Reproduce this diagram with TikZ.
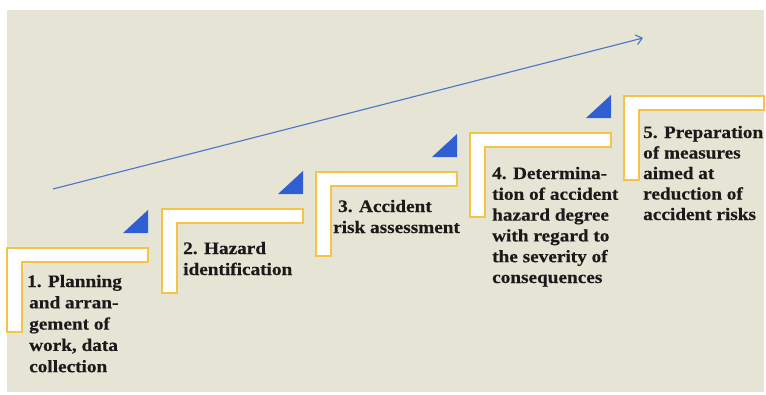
\documentclass[tikz,border=0pt]{standalone}
\usepackage{fontspec}
\newfontfamily\stepfont{Liberation Serif}[FakeStretch=1.1,FakeBold=0.4]
\usetikzlibrary{arrows.meta}
\definecolor{bg}{HTML}{E6E5D5}
\definecolor{stepyellow}{HTML}{F6C445}
\definecolor{triblue}{HTML}{2F5FD3}
\definecolor{arrowblue}{HTML}{4A74C8}
\definecolor{txt}{HTML}{1A1A1A}
\begin{document}
\begin{tikzpicture}[x=1pt,y=-1pt,
  steptext/.style={anchor=base west, inner sep=0pt, font=\stepfont\bfseries\fontsize{17.5}{21}\selectfont, text=txt},
  bracket/.style={fill=white, draw=stepyellow, line width=1.3pt, line join=miter},
  tri/.style={fill=triblue, draw=none}]
\useasboundingbox (0,0) rectangle (766,394);
\fill[white] (0,0) rectangle (766,394);
\fill[bg] (7,10) rectangle (764,392);

% brackets (L-shaped steps) and triangles
\foreach \L/\T/\R in {7/248/148, 162/209/303, 316/172/457, 470/133/611, 624/96/764}{
  \draw[bracket] (\L,\T) -- (\R,\T) -- (\R,\T+14) -- (\L+15,\T+14) -- (\L+15,\T+84) -- (\L,\T+84) -- cycle;
}
\foreach \R/\T in {148/248, 303/209, 457/172, 611/133}{
  \fill[tri] (\R,\T-38) -- (\R,\T-15) -- (\R-25,\T-15) -- cycle;
}

% trend arrow
\coordinate (arrS) at (53,189);
\coordinate (arrE) at (643,38);
\draw[arrowblue, line width=1.1pt, -{Straight Barb[length=6pt,width=10pt]}] (arrS) -- (arrE);

% step 1
\node[steptext] (t1a) at (27,287) {1. Planning};
\node[steptext] (t1b) at (29,308.3) {and arran-};
\node[steptext] (t1c) at (29,329.6) {gement of};
\node[steptext] (t1d) at (29,350.9) {work, data};
\node[steptext] (t1e) at (29,372.2) {collection};
% step 2
\node[steptext] (t2a) at (183,254) {2. Hazard};
\node[steptext] (t2b) at (183,275) {identification};
% step 3
\node[steptext] (t3a) at (338,212) {3. Accident};
\node[steptext] (t3b) at (333,233) {risk assessment};
% step 4
\node[steptext] (t4a) at (492,179) {4. Determina-};
\node[steptext] (t4b) at (492,199.8) {tion of accident};
\node[steptext] (t4c) at (492,220.6) {hazard degree};
\node[steptext] (t4d) at (492,241.4) {with regard to};
\node[steptext] (t4e) at (492,262.2) {the severity of};
\node[steptext] (t4f) at (492,283) {consequences};
% step 5
\node[steptext] (t5a) at (643,138) {5. Preparation};
\node[steptext] (t5b) at (643,158.5) {of measures};
\node[steptext] (t5c) at (643,179) {aimed at};
\node[steptext] (t5d) at (643,199.5) {reduction of};
\node[steptext] (t5e) at (643,220) {accident risks};
\end{tikzpicture}
\end{document}
